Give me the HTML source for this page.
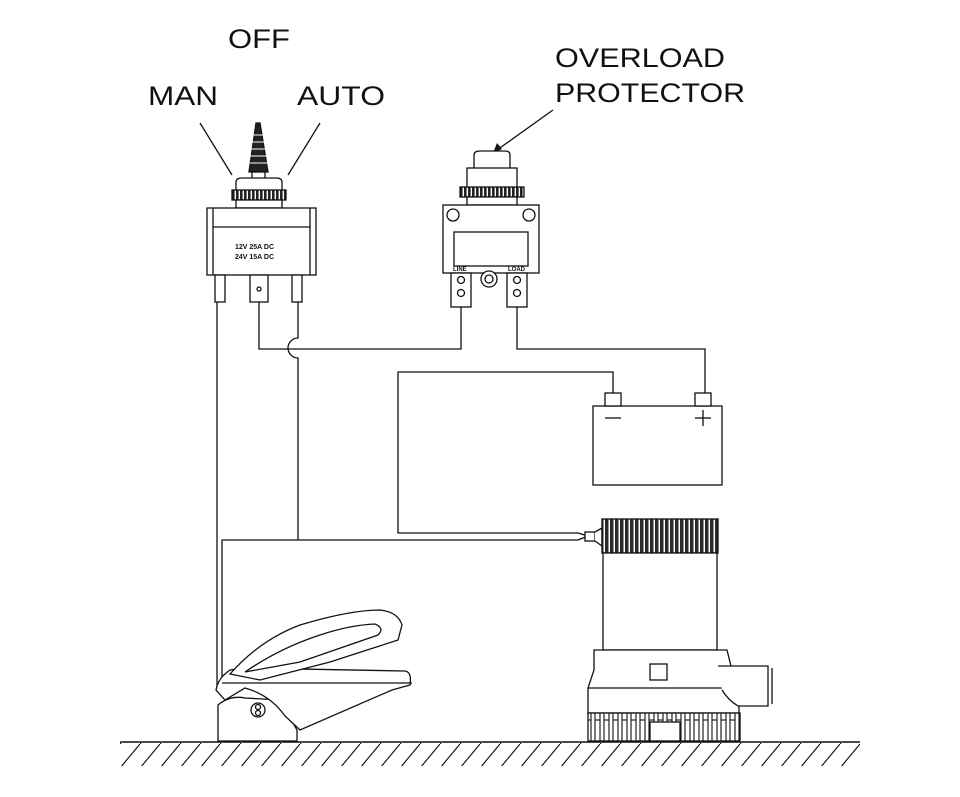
<!DOCTYPE html>
<html><head><meta charset="utf-8"><style>
html,body{margin:0;padding:0;background:#fff;}
svg{display:block;}
text{font-family:"Liberation Sans",sans-serif;fill:#111;}
</style></head><body>
<svg width="960" height="797" viewBox="0 0 960 797" xmlns="http://www.w3.org/2000/svg">
<defs>
<pattern id="knurl" width="4" height="10" patternUnits="userSpaceOnUse">
<rect width="4" height="10" fill="#fff"/><rect width="2.6" height="10" fill="#222"/>
</pattern>
<pattern id="knurl2" width="5" height="40" patternUnits="userSpaceOnUse">
<rect width="5" height="40" fill="#fff"/><rect width="3.5" height="40" fill="#2a2a2a"/>
</pattern>
<pattern id="fins" width="9" height="40" patternUnits="userSpaceOnUse">
<rect width="9" height="40" fill="#fff"/><rect x="1" width="5" height="40" fill="none" stroke="#222" stroke-width="1.2"/>
</pattern>
<pattern id="hatch" width="20" height="24" patternUnits="userSpaceOnUse">
<line x1="0" y1="24" x2="20" y2="0" stroke="#111" stroke-width="1.2"/>
</pattern>
</defs>
<text x="228" y="48" font-size="27" textLength="62" lengthAdjust="spacingAndGlyphs">OFF</text>
<text x="148" y="105" font-size="27" textLength="70" lengthAdjust="spacingAndGlyphs">MAN</text>
<text x="297" y="105" font-size="27" textLength="88" lengthAdjust="spacingAndGlyphs">AUTO</text>
<text x="555" y="67" font-size="27" textLength="170" lengthAdjust="spacingAndGlyphs">OVERLOAD</text>
<text x="555" y="102" font-size="27" textLength="190" lengthAdjust="spacingAndGlyphs">PROTECTOR</text>

<g fill="none" stroke="#111" stroke-width="1.3">
<line x1="200" y1="123" x2="232" y2="175"/>
<line x1="320" y1="123" x2="288" y2="175"/>
<line x1="553" y1="110" x2="497" y2="150"/>
</g>
<polygon points="493,153 497,143 502,149" fill="#111"/>

<!-- toggle switch -->
<g stroke="#111" stroke-width="1.3">
<polygon points="256,123 260,123 268,172 249,172" fill="#222"/>
<g stroke="#fff" stroke-width="1"><line x1="253" y1="135" x2="264" y2="135"/><line x1="252" y1="142" x2="265" y2="142"/><line x1="251" y1="149" x2="266" y2="149"/><line x1="250" y1="156" x2="267" y2="156"/><line x1="250" y1="163" x2="268" y2="163"/></g>
<rect x="252" y="172" width="13" height="10" fill="#fff"/>
<path d="M236,190 L236,182 Q236,178 242,178 L276,178 Q282,178 282,182 L282,190" fill="#fff"/>
<rect x="232" y="190" width="54" height="10" fill="url(#knurl)"/>
<rect x="236" y="200" width="46" height="8" fill="#fff"/>
<rect x="207" y="208" width="109" height="67" fill="#fff"/>
<line x1="213" y1="208" x2="213" y2="275"/><line x1="310" y1="208" x2="310" y2="275"/>
<line x1="213" y1="227" x2="310" y2="227"/>
<rect x="215" y="275" width="10" height="27" fill="#fff"/>
<rect x="250" y="275" width="18" height="27" fill="#fff"/>
<rect x="292" y="275" width="10" height="27" fill="#fff"/>
<circle cx="259" cy="289" r="2" fill="none"/>
</g>
<text x="235" y="249" font-size="7" font-weight="bold">12V  25A  DC</text>
<text x="235" y="259" font-size="7" font-weight="bold">24V  15A  DC</text>

<!-- overload protector -->
<g stroke="#111" stroke-width="1.3">
<path d="M474,175 L474,155 Q474,151 480,151 L505,151 Q510,151 510,155 L510,175 Z" fill="#fff"/>
<rect x="467" y="168" width="50" height="20" fill="#fff"/>
<rect x="460" y="187" width="64" height="10" fill="url(#knurl)"/>
<rect x="467" y="197" width="50" height="8" fill="#fff"/>
<rect x="443" y="205" width="96" height="68" fill="#fff"/>
<rect x="454" y="232" width="74" height="34" fill="#fff"/>
<circle cx="453" cy="215" r="6" fill="#fff"/><circle cx="529" cy="215" r="6" fill="#fff"/>
<rect x="451" y="273" width="20" height="34" fill="#fff"/>
<rect x="507" y="273" width="20" height="34" fill="#fff"/>
<circle cx="461" cy="280" r="3.5" fill="none"/><circle cx="461" cy="293" r="3.5" fill="none"/>
<circle cx="517" cy="280" r="3.5" fill="none"/><circle cx="517" cy="293" r="3.5" fill="none"/>
<circle cx="489" cy="279" r="8" fill="#fff"/><circle cx="489" cy="279" r="4" fill="none"/>
</g>
<text x="453" y="271" font-size="6" font-weight="bold">LINE</text>
<text x="508" y="271" font-size="6" font-weight="bold">LOAD</text>

<!-- wires -->
<g fill="none" stroke="#111" stroke-width="1.3">
<line x1="217" y1="302" x2="217" y2="690"/>
<path d="M259,302 L259,349 L461,349 L461,307"/>
<path d="M298,302 L298,338 A10,10 0 0 0 298,358 L298,540"/>
<path d="M222,690 L222,540 L578,540"/>
<path d="M517,307 L517,349 L705,349 L705,393"/>
<path d="M613,393 L613,372 L398,372 L398,533 L578,533"/>
<path d="M578,533 L588,536 L578,540"/>
<rect x="585" y="532" width="10" height="9" fill="#fff"/>
<path d="M595,532 L602,528 L602,546 L595,541" fill="#fff"/>
</g>

<!-- battery -->
<g fill="#fff" stroke="#111" stroke-width="1.3">
<rect x="593" y="406" width="129" height="79"/>
<rect x="605" y="393" width="16" height="13"/>
<rect x="695" y="393" width="16" height="13"/>
<line x1="605" y1="418" x2="621" y2="418"/>
<line x1="695" y1="418" x2="711" y2="418"/><line x1="703" y1="410" x2="703" y2="426"/>
</g>

<!-- pump -->
<g stroke="#111" stroke-width="1.3" fill="#fff">
<rect x="602" y="519" width="116" height="34" fill="url(#knurl2)"/>
<rect x="603" y="553" width="114" height="97"/>
<path d="M594,650 L594,670 L588,688 L588,713 L739,713 L739,688 L732,670 L727,650 Z"/>
<line x1="588" y1="688" x2="739" y2="688"/>
<rect x="650" y="664" width="17" height="16"/>
<path d="M718,666 L768,666 L768,706 L738,706 Q728,700 722,690" />
<line x1="772" y1="668" x2="772" y2="704"/>
<rect x="588" y="713" width="152" height="28" fill="url(#fins)"/>
<rect x="650" y="722" width="30" height="19"/>
</g>

<!-- float switch -->
<g stroke="#111" stroke-width="1.3" fill="#fff">
<path d="M218,741 L218,705 Q230,695 245,698 L280,700 L297,730 L297,741 Z"/>
<circle cx="258" cy="710" r="7"/>
<circle cx="258" cy="707" r="2.5" fill="none"/><circle cx="258" cy="713" r="2.5" fill="none"/>
<path d="M216,690 Q218,678 230,670 L245,668 L405,671 Q412,672 410,685 L392,690 L300,730 L285,716 Q270,695 245,688 L225,700 Z"/>
<line x1="222" y1="683" x2="412" y2="683"/>
<path d="M230,674 Q260,640 300,625 Q350,610 380,610 Q398,612 402,625 L398,640 L330,662 L260,680 Z"/>
<path d="M245,672 Q280,648 320,635 Q350,625 375,624 Q385,628 378,635 L300,662 Z"/>
</g>

<!-- ground -->
<line x1="120" y1="742" x2="860" y2="742" stroke="#111" stroke-width="1.4"/>
<rect x="120" y="743" width="740" height="23" fill="url(#hatch)"/>
</svg>
</body></html>
